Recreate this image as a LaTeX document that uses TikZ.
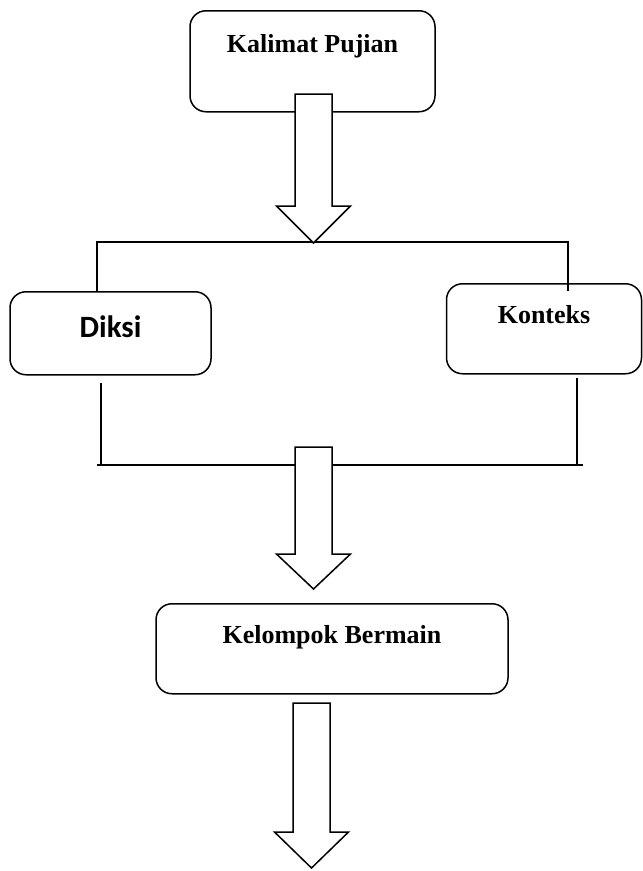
\documentclass[tikz,border=0pt]{standalone}
\usepackage{fontspec}
\setmainfont{Liberation Serif}
\newfontfamily\calibri{Carlito}

\tikzset{
  kotak/.style={draw, line width=1.5pt, rounded corners=16pt, anchor=north,
    font=\fontsize{26}{30}\selectfont\bfseries, text height=18pt, inner xsep=0pt},
  garis/.style={line width=1.5pt},
  panah/.style={draw, fill=white, line width=1.5pt, line join=miter}
}

\begin{document}
\begin{tikzpicture}[x=1pt, y=-1pt]
\useasboundingbox (0,0) rectangle (643,871);

\node[kotak, minimum width=245pt, inner ysep=24pt, text depth=35pt] (pujian) at (312.5,10) {Kalimat Pujian};
\node[kotak, minimum width=201pt, inner ysep=26pt, text height=20pt, text depth=11pt,
  font=\fontsize{31}{35}\selectfont\calibri\bfseries] (diksi) at (110.5,291) {Diksi};
\node[kotak, minimum width=195pt, inner ysep=22pt, text depth=28pt] (konteks) at (544,283) {Konteks};
\node[kotak, minimum width=352pt, inner ysep=22pt, text depth=28pt] (kelompok) at (332,603) {Kelompok Bermain};

% cabang atas
\coordinate (cabangkiri) at (97,242);
\coordinate (cabangkanan) at (568,242);
\draw[garis] (cabangkiri |- diksi.north) -- (cabangkiri) -- (cabangkanan) -- (568,291);

% gabung bawah
\coordinate (gabungkiri) at (101,465);
\coordinate (gabungkanan) at (577,465);
\draw[garis] (101,383) -- (gabungkiri);
\draw[garis] (577,378) -- (gabungkanan);
\draw[garis] (97,465) -- (583,465);

% panah blok
\foreach \cx/\ytop/\yhead/\ytip in {313.5/94/206/243, 313.5/447/554/589, 311.5/703/832/868}
  \draw[panah] (\cx-18.5,\ytop) -- (\cx+18.5,\ytop) -- (\cx+18.5,\yhead) -- (\cx+37,\yhead)
    -- (\cx,\ytip) -- (\cx-37,\yhead) -- (\cx-18.5,\yhead) -- cycle;
\end{tikzpicture}
\end{document}
